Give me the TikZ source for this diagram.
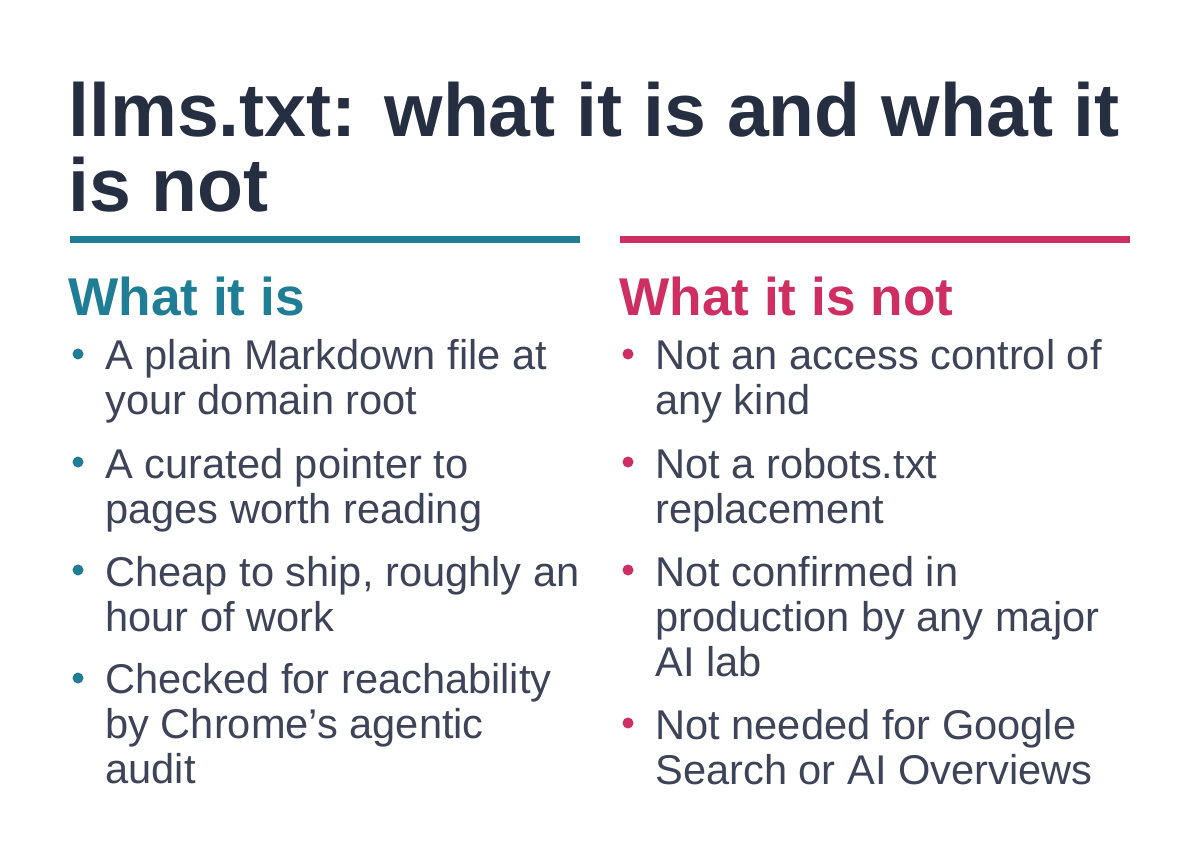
\documentclass[tikz,border=0pt]{standalone}
\usepackage{fontspec}
\setmainfont{Liberation Sans}
\definecolor{titleink}{HTML}{262E42}
\definecolor{bodyink}{HTML}{3D4358}
\definecolor{isteal}{HTML}{1F7D96}
\definecolor{notpink}{HTML}{CE2E62}
\tikzset{
  item/.style={anchor=base west, inner sep=0pt, align=left, text=bodyink,
    font=\fontsize{20.8}{22.5}\selectfont},
  head/.style={anchor=base west, inner sep=0pt, font=\fontsize{26.6}{28}\selectfont\bfseries},
  dot/.style={circle, fill=#1, inner sep=0pt, minimum size=5.5pt},
}
\begin{document}
\begin{tikzpicture}[x=0.5pt,y=-0.5pt]
    \useasboundingbox (0,0) rectangle (1200,850);
    % title
    \node[anchor=base west, inner sep=0pt, align=left, text=titleink,
      font=\fontsize{37.6}{37.5}\selectfont\bfseries] (title) at (68,212)
      {llms.txt: what it is and what it\\is not};
    \draw[isteal, line width=3.5pt] (70,240) -- (580,240);
    \draw[notpink, line width=3.5pt] (620,240) -- (1130,240);
    % columns
    \node[head, text=isteal] (ishead) at (68,316) {What it is};
    \node[head, text=notpink] (nothead) at (619,316) {What it is not};
    \foreach \y/\last/\txt [count=\i] in {370/415/{A plain Markdown file at\\your domain root},
        478/523/{A curated pointer to\\pages worth reading},
        586/631/{Cheap to ship, roughly an\\hour of work},
        694/783/{Checked for reachability\\by Chrome\char39 s agentic\\audit}}{
      \node[item] (is\i) at (105,\last) {\txt};
      \node[dot=isteal] (isdot\i) at (78,\y-16) {};
    }
    \foreach \y/\last/\txt [count=\i] in {370/415/{Not an access control of\\any kind},
        478/523/{Not a robots.txt\\replacement},
        586/676/{Not confirmed in\\production by any major\\AI lab},
        739/784/{Not needed for Google\\Search or AI Overviews}}{
      \node[item] (not\i) at (655,\last) {\txt};
      \node[dot=notpink] (notdot\i) at (628,\y-16) {};
    }
\end{tikzpicture}
\end{document}
